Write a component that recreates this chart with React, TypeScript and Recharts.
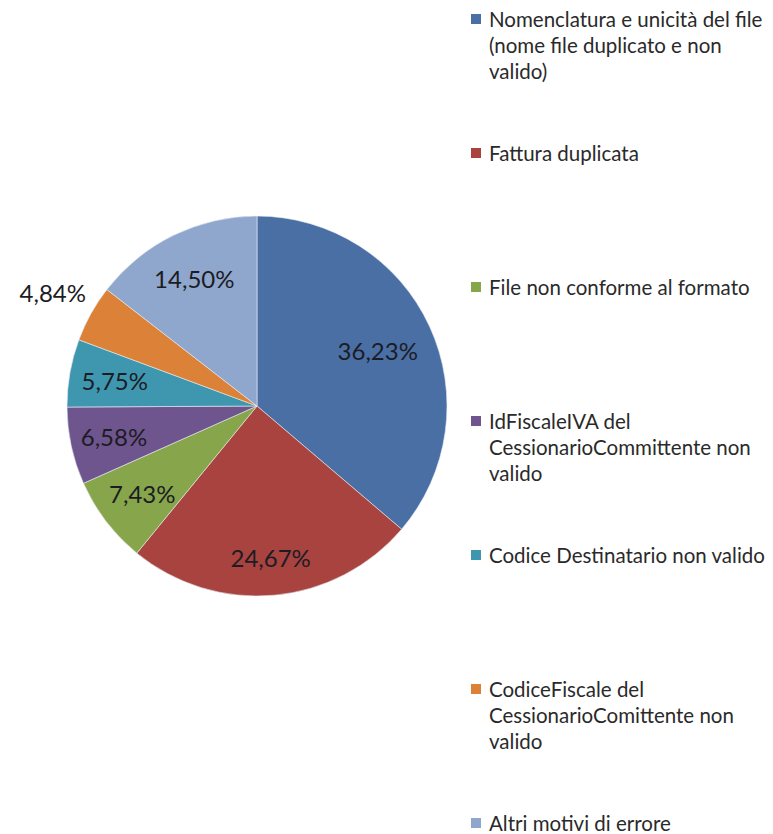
import { Cell, Legend, Pie, PieChart } from "recharts";

const categories = [
  "Nomenclatura e unicità del file\n(nome file duplicato e non\nvalido)",
  "Fattura duplicata",
  "File non conforme al formato",
  "IdFiscaleIVA del\nCessionarioCommittente non\nvalido",
  "Codice Destinatario non valido",
  "CodiceFiscale del\nCessionarioComittente non\nvalido",
  "Altri motivi di errore",
];

const shares = [36.23, 24.67, 7.43, 6.58, 5.75, 4.84, 14.5];

const colors = ["#4A6FA5", "#A8433F", "#87A54B", "#6F558E", "#3E97AF", "#DB8238", "#8FA6CD"];

const data = categories.map((name, i) => ({ name, value: shares[i] }));

const FONT = "Lato, 'Open Sans', sans-serif";

// excel "best fit" puts most labels inside, the small orange one outside
const labelRadius = [0.7, 0.8, 0.76, 0.77, 0.76, 1.23, 0.75];

const RADIAN = Math.PI / 180;

function SliceLabel(props: any) {
  const { cx, cy, midAngle, outerRadius, index, value } = props;
  const r = outerRadius * labelRadius[index];
  const x = cx + r * Math.cos(-midAngle * RADIAN);
  const y = cy + r * Math.sin(-midAngle * RADIAN);
  return (
    <text x={x} y={y} textAnchor="middle" dominantBaseline="central" fill="#1c1c24" fontSize={24} fontFamily={FONT}>
      {value.toFixed(2).replace(".", ",") + "%"}
    </text>
  );
}

function LegendBox() {
  return (
    <div style={{ fontFamily: FONT, fontSize: 20.5, color: "#2a2a2a" }}>
      {data.map((d, i) => (
        <div key={i} style={{ height: 134, display: "flex", alignItems: "flex-start" }}>
          <div style={{ width: 10, height: 10, background: colors[i], marginTop: 8, marginRight: 8, flexShrink: 0 }} />
          <div style={{ whiteSpace: "pre-line", lineHeight: "26px", textAlign: "left" }}>{d.name}</div>
        </div>
      ))}
    </div>
  );
}

export default function App() {
  return (
    <div style={{ position: "absolute", left: 0, top: 0, width: 773, height: 834, background: "#fff" }}>
      <PieChart width={773} height={834} margin={{ top: 0, right: 0, bottom: 0, left: 0 }}>
        <Pie
          data={data}
          dataKey="value"
          nameKey="name"
          cx={257}
          cy={406}
          outerRadius={190}
          startAngle={90}
          endAngle={-270}
          stroke="#e8ecf2"
          strokeWidth={0.6}
          labelLine={false}
          label={SliceLabel}
          isAnimationActive={false}
        >
          {data.map((d, i) => (
            <Cell key={d.name} fill={colors[i]} />
          ))}
        </Pie>
        <Legend
          layout="vertical"
          align="right"
          verticalAlign="top"
          content={<LegendBox />}
          wrapperStyle={{ left: 471, top: 6, width: 302 }}
        />
      </PieChart>
    </div>
  );
}
